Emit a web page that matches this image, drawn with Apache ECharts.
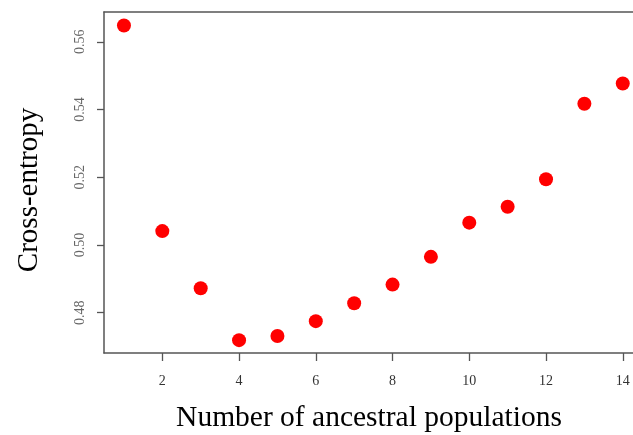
<!DOCTYPE html>
<html>
<head>
<meta charset="utf-8">
<script src="https://cdn.jsdelivr.net/npm/echarts@6/dist/echarts.min.js"></script>
<style>
html,body{margin:0;padding:0;background:#fff;}
#chart{width:633px;height:435px;}
</style>
</head>
<body>
<div id="chart"></div>
<script>
// Data
const populations = [1, 2, 3, 4, 5, 6, 7, 8, 9, 10, 11, 12, 13, 14];
const crossEntropy = [0.5648, 0.5041, 0.4872, 0.4719, 0.4731, 0.4775, 0.4828, 0.4883, 0.4965, 0.5066, 0.5113, 0.5194, 0.5417, 0.5477];
const xTicks = [2, 4, 6, 8, 10, 12, 14];
const yTicks = [0.48, 0.50, 0.52, 0.54, 0.56];
const xTitle = 'Number of ancestral populations';
const yTitle = 'Cross-entropy';

const chart = echarts.init(document.getElementById('chart'), null, {renderer: 'canvas'});
const serif = '"Liberation Serif", "DejaVu Serif", serif';
const lineCol = '#555';

chart.setOption({
  animation: false,
  backgroundColor: '#fff',
  grid: {left: 104, top: 12, bottom: 82, right: 0, show: false},
  xAxis: [{
    type: 'value', min: 0.48, max: 14.267, position: 'bottom',
    splitLine: {show: false},
    axisLine: {show: true, onZero: false, lineStyle: {color: lineCol, width: 1.5}},
    axisTick: {show: true, length: 8, customValues: xTicks, lineStyle: {color: lineCol, width: 1.3}},
    axisLabel: {customValues: xTicks, margin: 21, fontFamily: serif, fontSize: 14, color: '#333'}
  }, {
    type: 'value', min: 0.48, max: 14.267, position: 'top',
    splitLine: {show: false},
    axisLine: {show: true, onZero: false, lineStyle: {color: lineCol, width: 1.5}},
    axisTick: {show: false},
    axisLabel: {show: false}
  }],
  yAxis: {
    type: 'value', min: 0.4681, max: 0.5688,
    splitLine: {show: false},
    axisLine: {show: true, onZero: false, lineStyle: {color: lineCol, width: 1.5}},
    axisTick: {show: true, length: 7, customValues: yTicks, lineStyle: {color: lineCol, width: 1.3}},
    axisLabel: {customValues: yTicks, rotate: 90, margin: 17, fontFamily: serif, fontSize: 14, color: '#666',
      formatter: v => v.toFixed(2)}
  },
  graphic: [
    {type: 'text', x: 369, y: 418, style: {text: xTitle, font: '29.5px ' + serif, fill: '#000', textAlign: 'center', textVerticalAlign: 'middle'}},
    {type: 'text', x: 29, y: 190, rotation: Math.PI / 2, style: {text: yTitle, font: '29px ' + serif, fill: '#000', textAlign: 'center', textVerticalAlign: 'middle'}}
  ],
  series: [{
    type: 'scatter',
    xAxisIndex: 0,
    data: populations.map((p, i) => [p, crossEntropy[i]]),
    symbol: 'circle',
    symbolSize: 14,
    itemStyle: {color: '#ff0000', opacity: 1}
  }]
});
</script>
</body>
</html>
